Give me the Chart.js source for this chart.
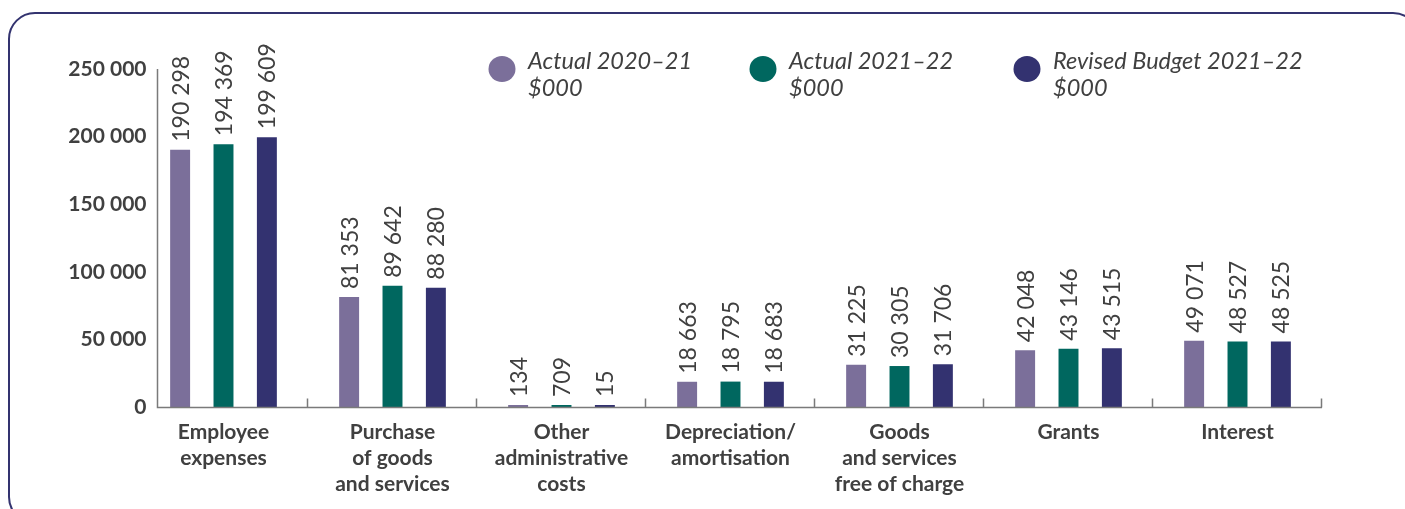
<!DOCTYPE html>
<html>
<head>
<meta charset="utf-8">
<script src="https://cdn.jsdelivr.net/npm/chart.js@4/dist/chart.umd.min.js"></script>
<style>
  html, body { margin: 0; padding: 0; background: #ffffff; }
  #wrap { position: relative; width: 1405px; height: 509px; overflow: hidden; }
  #frame {
    position: absolute; left: 8px; top: 12px; width: 1412px; height: 512px;
    border: 2.5px solid #33336f; border-radius: 27px; box-sizing: border-box;
    pointer-events: none;
  }
  canvas { position: absolute; left: 0; top: 0; }
</style>
</head>
<body>
<div id="wrap">
  <div id="frame"></div>
  <canvas id="chart" width="1405" height="509"></canvas>
</div>
<script>
// Expense categories (x axis, multi-line labels)
const categories = [
  ['Employee', 'expenses'],
  ['Purchase', 'of goods', 'and services'],
  ['Other', 'administrative', 'costs'],
  ['Depreciation/', 'amortisation'],
  ['Goods', 'and services', 'free of charge'],
  ['Grants'],
  ['Interest']
];

// Series values, $000
const actual2021 = [190298, 81353, 134, 18663, 31225, 42048, 49071];
const actual2122 = [194369, 89642, 709, 18795, 30305, 43146, 48527];
const revisedBudget2122 = [199609, 88280, 15, 18683, 31706, 43515, 48525];

// Series names (two-line legend entries)
const seriesNames = [
  ['Actual 2020–21', '$000'],
  ['Actual 2021–22', '$000'],
  ['Revised Budget 2021–22', '$000']
];
const seriesColors = ['#7b6f9a', '#00675f', '#333270'];

// Y axis ticks
const yTicks = [0, 50000, 100000, 150000, 200000, 250000];

const fmt = v => String(v).replace(/\B(?=(\d{3})+(?!\d))/g, ' ');
const TEXT = '#404040';
const AXIS = '#7a7a7a';

// Value labels, rotated, above each bar
const valueLabels = {
  id: 'valueLabels',
  afterDatasetsDraw(chart) {
    const ctx = chart.ctx;
    ctx.save();
    ctx.font = '400 23px Lato';
    ctx.fillStyle = TEXT;
    ctx.textAlign = 'left';
    ctx.textBaseline = 'middle';
    chart.data.datasets.forEach((ds, di) => {
      const meta = chart.getDatasetMeta(di);
      meta.data.forEach((bar, i) => {
        ctx.save();
        ctx.translate(bar.x + 1, bar.y - 8);
        ctx.rotate(-Math.PI / 2);
        ctx.fillText(fmt(ds.data[i]), 0, 0);
        ctx.restore();
      });
    });
    ctx.restore();
  }
};

// Value axis drawn inset from the category band: axis lines, y tick
// labels and small tick marks rising from the x axis at category boundaries
const axisLines = {
  id: 'axisLines',
  afterDraw(chart, args, opts) {
    const xs = chart.scales.x;
    const ys = chart.scales.y;
    const n = chart.data.labels.length;
    const step = (xs.right - xs.left) / n;
    const ax = Math.round(xs.left + opts.inset) + 0.5;
    const bottom = Math.round(ys.getPixelForValue(0)) + 0.5;
    const top = Math.round(ys.getPixelForValue(yTicks[yTicks.length - 1]));
    const ctx = chart.ctx;
    ctx.save();
    ctx.strokeStyle = AXIS;
    ctx.lineWidth = 1.5;
    ctx.beginPath();
    ctx.moveTo(ax, top);
    ctx.lineTo(ax, bottom);
    ctx.lineTo(xs.right, bottom);
    for (let i = 1; i <= n; i++) {
      const x = Math.round(xs.left + i * step) - 0.5;
      ctx.moveTo(x, bottom - 9);
      ctx.lineTo(x, bottom);
    }
    ctx.stroke();

    ctx.fillStyle = TEXT;
    ctx.font = 'bold 21px Lato';
    ctx.textAlign = 'right';
    ctx.textBaseline = 'middle';
    ys.ticks.forEach(t => {
      ctx.fillText(fmt(t.value), ax - 11, ys.getPixelForValue(t.value));
    });
    ctx.restore();
  }
};

// Legend: coloured dots with two-line italic labels
const dotLegend = {
  id: 'dotLegend',
  afterDraw(chart, args, opts) {
    const ctx = chart.ctx;
    ctx.save();
    chart.data.datasets.forEach((ds, i) => {
      const x = opts.x[i];
      const y = opts.y;
      ctx.fillStyle = ds.backgroundColor;
      ctx.beginPath();
      ctx.ellipse(x, y, 13.5, 13, 0, 0, Math.PI * 2);
      ctx.fill();
      ctx.fillStyle = TEXT;
      ctx.font = 'italic 400 23.5px Lato';
      ctx.textAlign = 'left';
      ctx.textBaseline = 'alphabetic';
      seriesNames[i].forEach((line, li) => {
        ctx.fillText(line, x + 26, y + li * 27);
      });
    });
    ctx.restore();
  }
};

new Chart(document.getElementById('chart'), {
  type: 'bar',
  data: {
    labels: categories,
    datasets: [
      { label: seriesNames[0].join(' '), data: actual2021, backgroundColor: seriesColors[0] },
      { label: seriesNames[1].join(' '), data: actual2122, backgroundColor: seriesColors[1] },
      { label: seriesNames[2].join(' '), data: revisedBudget2122, backgroundColor: seriesColors[2] }
    ]
  },
  options: {
    responsive: false,
    animation: false,
    layout: { padding: { top: 69, right: 83, bottom: 0, left: 0 } },
    datasets: {
      bar: { categoryPercentage: 0.77, barPercentage: 0.46, minBarLength: 2 }
    },
    plugins: {
      legend: { display: false },
      tooltip: { enabled: false },
      dotLegend: { x: [502, 763, 1027], y: 69 },
      axisLines: { inset: 18 }
    },
    scales: {
      x: {
        afterFit(s) { s.height = 102; },
        grid: { display: false, drawTicks: false },
        border: { display: false },
        ticks: {
          padding: 12,
          color: TEXT,
          font: { family: 'Lato', weight: 'bold', size: 21, lineHeight: '26px' },
          maxRotation: 0, autoSkip: false
        }
      },
      y: {
        min: 0,
        max: 250000,
        afterFit(s) { s.width = 139; },
        afterBuildTicks(s) { s.ticks = yTicks.map(v => ({ value: v })); },
        grid: { display: false, drawTicks: false },
        border: { display: false },
        ticks: { display: false }
      }
    }
  },
  plugins: [valueLabels, axisLines, dotLegend]
});
</script>
</body>
</html>
